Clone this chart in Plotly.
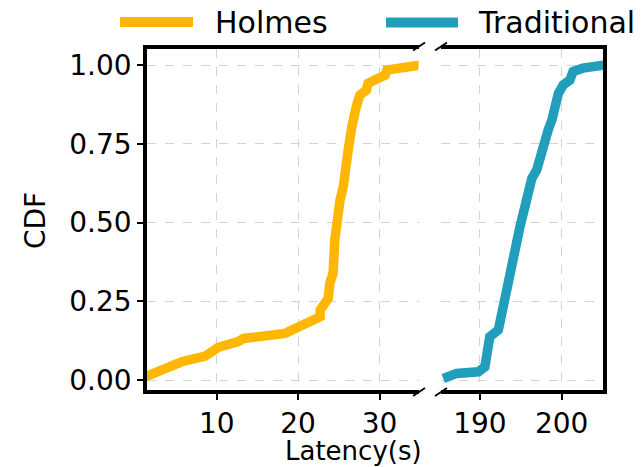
import plotly.graph_objects as go
from plotly.subplots import make_subplots

# ---- data: empirical CDFs of request latency (seconds) ----
holmes_latency = [1.2, 5.7, 8.6, 10.2, 12.65, 13.3, 18.4, 20.2, 21.9, 22.7, 22.7,
                  23.7, 23.9, 24.3, 24.5, 24.75, 25.15, 25.55, 25.75, 26.15, 26.6,
                  26.8, 27.2, 27.6, 28.4, 28.6, 30.7, 30.9, 35.0]
holmes_cdf = [0.010, 0.058, 0.076, 0.104, 0.122, 0.132, 0.148, 0.169, 0.185, 0.201, 0.222,
              0.259, 0.307, 0.339, 0.444, 0.508, 0.571, 0.614, 0.688, 0.730, 0.804,
              0.841, 0.873, 0.905, 0.921, 0.942, 0.968, 0.984, 1.000]

traditional_latency = [185.5, 187.15, 189.8, 190.6, 190.8, 191.2, 192.25, 192.65, 193.25,
                       193.65, 194.1, 194.5, 194.9, 195.5, 196.1, 196.35, 196.95, 197.35,
                       197.95, 198.35, 198.8, 199.2, 199.6, 200.2, 201.0, 201.4, 202.6, 205.3]
traditional_cdf = [0.005, 0.021, 0.026, 0.042, 0.074, 0.137, 0.159, 0.212, 0.275,
                   0.339, 0.402, 0.434, 0.487, 0.550, 0.614, 0.640, 0.667, 0.709,
                   0.751, 0.794, 0.825, 0.878, 0.910, 0.937, 0.952, 0.979, 0.990, 1.000]

series_names = ["Holmes", "Traditional"]
series_colors = ["#ffb703", "#219ebc"]

left_ticks = [10, 20, 30]
right_ticks = [190, 200]
cdf_ticks = [0.0, 0.25, 0.5, 0.75, 1.0]
cdf_tick_text = ["0.00", "0.25", "0.50", "0.75", "1.00"]

# ---- page geometry (pixels) ----
W, H = 644, 467
L, R, T, B = 147, 41, 49, 77
PW, PH = W - L - R, H - T - B


def px_x(px):
    return (px - L) / PW


def px_y(py):
    return (T + PH - py) / PH


FONT = "DejaVu Sans"

fig = make_subplots(rows=1, cols=2, shared_yaxes=False,
                    column_widths=[0.5954, 1 - 0.6458], horizontal_spacing=0.0504)

fig.add_trace(go.Scatter(x=holmes_latency, y=holmes_cdf, mode="lines",
                         line=dict(color=series_colors[0], width=9.5),
                         name=series_names[0], showlegend=False), row=1, col=1)
fig.add_trace(go.Scatter(x=traditional_latency, y=traditional_cdf, mode="lines",
                         line=dict(color=series_colors[1], width=9.5),
                         name=series_names[1], showlegend=False), row=1, col=2)

grid = dict(showgrid=True, gridcolor="#d3d3d3", gridwidth=1, griddash="dash",
            zeroline=False)
tickfont = dict(family=FONT, size=28, color="black")
yrange = [-0.0317, 1.0508]

fig.update_layout(
    width=W, height=H,
    margin=dict(l=L, r=R, t=T, b=B),
    plot_bgcolor="white", paper_bgcolor="white",
    showlegend=False,
    xaxis=dict(domain=[0, 0.5954], range=[1.44, 34.79], tickvals=left_ticks,
               ticks="outside", ticklen=6, tickwidth=1.5, tickcolor="black",
               showline=True, linecolor="black", linewidth=3.5, mirror=True,
               tickfont=tickfont, **grid),
    xaxis2=dict(domain=[0.6458, 1], range=[185.29, 205.06], tickvals=right_ticks,
                ticks="outside", ticklen=6, tickwidth=1.5, tickcolor="black",
                showline=True, linecolor="black", linewidth=3.5, mirror=True,
                tickfont=tickfont, **grid),
    yaxis=dict(range=yrange, tickvals=cdf_ticks, ticktext=cdf_tick_text,
               ticks="outside", ticklen=6, tickwidth=1.5, tickcolor="black",
               showline=True, linecolor="black", linewidth=3.5, mirror=False,
               tickfont=tickfont, **grid),
    yaxis2=dict(range=yrange, tickvals=cdf_ticks, side="right", anchor="x2",
                ticks="", showticklabels=False,
                showline=True, linecolor="black", linewidth=3.5, mirror=False,
                **grid),
)

shapes = []
# diagonal break marks at the gap between the two panels
for cx in (419, 441):
    for cy in (46.5, 392):
        shapes.append(dict(type="line", xref="paper", yref="paper",
                           x0=px_x(cx - 6), y0=px_y(cy + 4),
                           x1=px_x(cx + 6), y1=px_y(cy - 4),
                           line=dict(color="black", width=1.8)))

# hand-placed legend handles
legend_items = [(120, 193, 22, 213), (386, 458, 22.5, 476)]
annotations = []
for (x0, x1, yy, tx), name, color in zip(legend_items, series_names, series_colors):
    shapes.append(dict(type="line", xref="paper", yref="paper",
                       x0=px_x(x0), x1=px_x(x1), y0=px_y(yy), y1=px_y(yy),
                       line=dict(color=color, width=10)))
    annotations.append(dict(text=name, xref="paper", yref="paper",
                            x=px_x(tx), y=px_y(yy), xanchor="left", yanchor="middle",
                            showarrow=False,
                            font=dict(family=FONT, size=30, color="black")))

# axis titles
annotations.append(dict(text="Latency(s)", xref="paper", yref="paper",
                        x=px_x(353), y=px_y(451), xanchor="center", yanchor="middle",
                        showarrow=False, font=dict(family=FONT, size=26, color="black")))
annotations.append(dict(text="CDF", xref="paper", yref="paper",
                        x=px_x(35), y=px_y(221), xanchor="center", yanchor="middle",
                        textangle=-90, showarrow=False,
                        font=dict(family=FONT, size=28, color="black")))

fig.update_layout(shapes=shapes, annotations=annotations)

fig.write_html("out.html")
